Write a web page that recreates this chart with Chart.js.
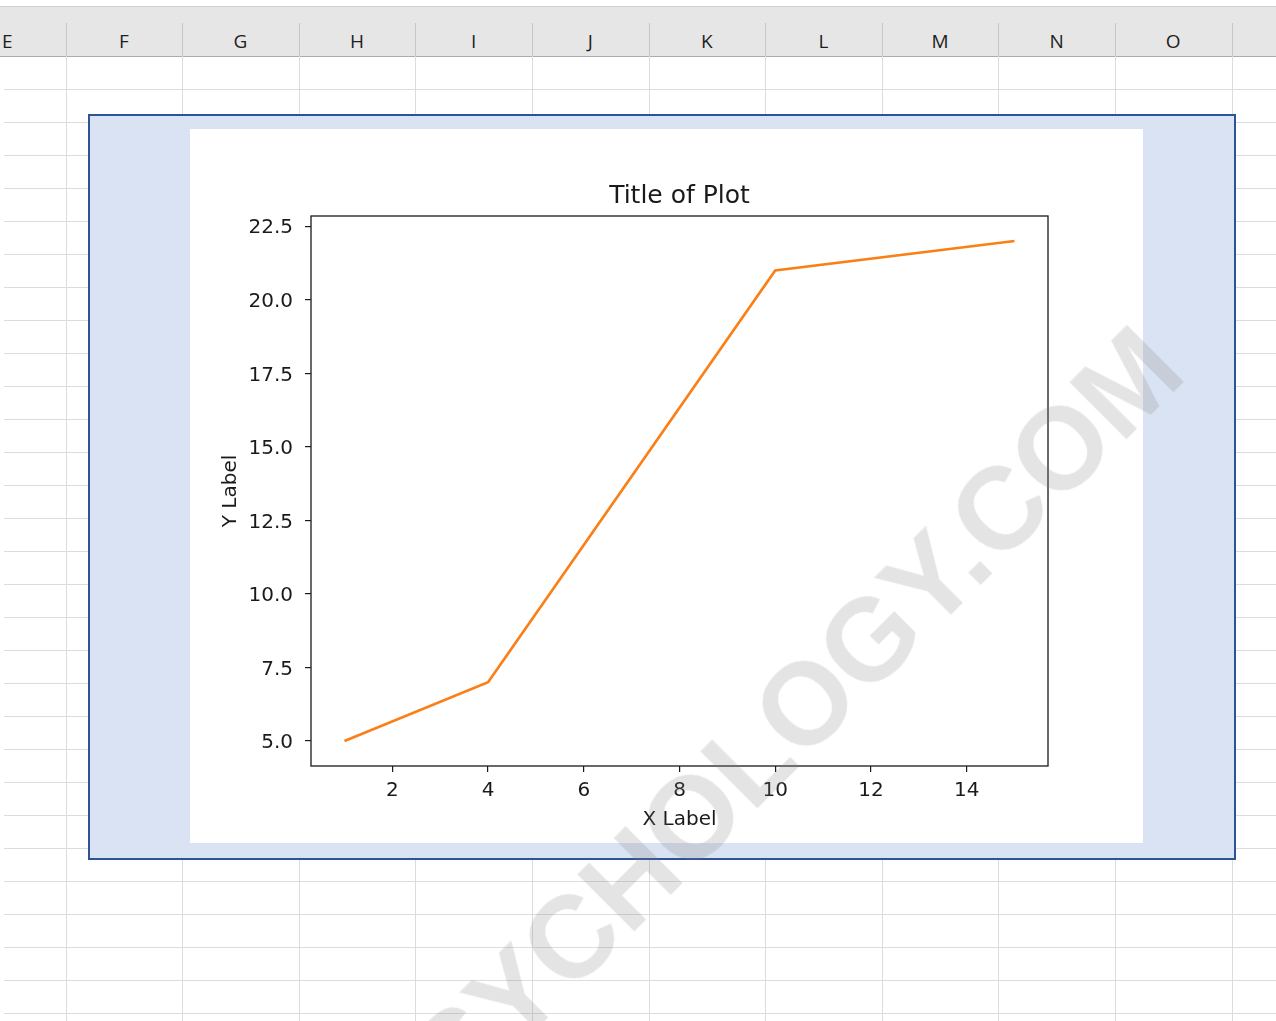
<!DOCTYPE html>
<html>
<head>
<meta charset="utf-8">
<title>Title of Plot</title>
<script src="https://cdn.jsdelivr.net/npm/chart.js@4.4.1/dist/chart.umd.min.js"></script>
<style>
  html, body { margin: 0; padding: 0; background: #fff; }
  body { width: 1276px; height: 1021px; position: relative; overflow: hidden; font-family: "Open Sans", "Noto Sans", sans-serif; }
  .vline { position: absolute; width: 1px; background: #dcdcdc; top: 56px; bottom: 0; }
  .hline { position: absolute; height: 1px; background: #dcdcdc; left: 4px; right: 0; }
  .hsep { position: absolute; width: 1px; background: #c6c6c6; top: 23px; height: 33px; }
  #colhead { position: absolute; left: 0; right: 0; top: 6px; height: 49px; background: #e6e6e6; border-top: 1px solid #d2d2d2; border-bottom: 1px solid #ababab; }
  .colname { position: absolute; top: 29px; width: 116px; margin-left: -58px; text-align: center; font-size: 19px; line-height: 24px; color: #1e1e1e; }
  #frame { position: absolute; left: 88px; top: 114px; width: 1144px; height: 742px; border: 2px solid #2f5496; background: #dae3f3; }
  #plotimg { position: absolute; left: 190px; top: 129px; width: 953px; height: 714px; background: #fff; }
  #watermark { position: absolute; left: 769px; top: 740px; transform: translate(-50%, -50%) rotate(-45deg);
    font-family: "Liberation Sans", Arial, sans-serif; font-weight: bold; font-size: 116px; line-height: 1;
    color: rgba(128, 128, 128, 0.21); white-space: nowrap; pointer-events: none; }
</style>
</head>
<body>
<div id="colhead"></div>
<div id="frame"></div>
<div id="plotimg"></div>
<canvas id="plot-chart" width="953" height="714" style="position:absolute;left:190px;top:130px;"></canvas>
<div id="watermark">PSYCHOLOGY.COM</div>

<script>
'use strict';

// *************** DATA
let xValues = [1, 4, 10, 15];
let yValues = [5, 7, 21, 22];
let xTicks = [2, 4, 6, 8, 10, 12, 14];
let yTicks = [5.0, 7.5, 10.0, 12.5, 15.0, 17.5, 20.0, 22.5];
let xRange = [0.3, 15.7];
let yRange = [4.15, 22.85];
let chartTitle = 'Title of Plot';
let xLabel = 'X Label';
let yLabel = 'Y Label';
let columnNames = ['E', 'F', 'G', 'H', 'I', 'J', 'K', 'L', 'M', 'N', 'O'];

// *************** SPREADSHEET BACKGROUND
let colWidth = 116.6;
let firstColLine = 65.5;
let frameDiv = document.getElementById('frame');

for (let y = 89; y < 1021; y += 33) {
  let line = document.createElement('div');
  line.className = 'hline';
  line.style.top = y + 'px';
  document.body.insertBefore(line, frameDiv);
}

for (let i = 0; i < 11; i++) {
  let x = Math.round(firstColLine + i * colWidth);
  let line = document.createElement('div');
  line.className = 'vline';
  line.style.left = x + 'px';
  document.body.insertBefore(line, frameDiv);

  let sep = document.createElement('div');
  sep.className = 'hsep';
  sep.style.left = x + 'px';
  document.body.insertBefore(sep, frameDiv);
}

for (let i = 0; i < columnNames.length; i++) {
  let label = document.createElement('div');
  label.className = 'colname';
  label.style.left = (firstColLine + (i - 0.5) * colWidth) + 'px';
  label.textContent = columnNames[i];
  document.body.insertBefore(label, frameDiv);
}

// *************** CHART
let ctx = document.getElementById('plot-chart');
let inkColor = '#1a1a1a';
let fontFamily = '"DejaVu Sans", Verdana, sans-serif';

// draws the full box round the plot area, like matplotlib spines
let framePlugin = {
  id: 'frame',
  afterDraw(chart) {
    let c = chart.ctx;
    let a = chart.chartArea;
    c.save();
    c.strokeStyle = inkColor;
    c.lineWidth = 1.3;
    c.strokeRect(a.left, a.top, a.right - a.left, a.bottom - a.top);
    c.restore();
  }
};

let points = [];
for (let i = 0; i < xValues.length; i++) {
  points.push({ x: xValues[i], y: yValues[i] });
}

let chartObj = {
  type: 'line',
  data: {
    datasets: [{
      data: points,
      borderColor: '#fa7f17',
      borderWidth: 2.7,
      pointRadius: 0,
      tension: 0,
      fill: false
    }]
  },
  options: {
    responsive: false,
    animation: false,
    layout: { padding: { left: 0, right: 95, top: 0, bottom: 0 } },
    plugins: {
      legend: { display: false },
      tooltip: { enabled: false },
      title: {
        display: true,
        text: chartTitle,
        fullSize: false,
        color: inkColor,
        font: { family: fontFamily, size: 25, weight: 'normal' },
        padding: { top: 51, bottom: 5 }
      }
    },
    scales: {
      x: {
        type: 'linear',
        min: xRange[0],
        max: xRange[1],
        afterBuildTicks: function (scale) {
          scale.ticks = xTicks.map(v => ({ value: v }));
        },
        afterFit: function (scale) {
          scale.height = 78;
        },
        border: { display: false },
        grid: { drawOnChartArea: false, drawTicks: true, tickLength: 6, color: inkColor, lineWidth: 1.2 },
        ticks: {
          padding: 7,
          color: inkColor,
          autoSkip: false,
          maxRotation: 0,
          font: { family: fontFamily, size: 20 },
          callback: v => String(v)
        },
        title: {
          display: true,
          text: xLabel,
          color: inkColor,
          font: { family: fontFamily, size: 20 },
          padding: { top: 0, bottom: 12 }
        }
      },
      y: {
        type: 'linear',
        min: yRange[0],
        max: yRange[1],
        afterBuildTicks: function (scale) {
          scale.ticks = yTicks.map(v => ({ value: v }));
        },
        afterFit: function (scale) {
          scale.width = 121;
        },
        border: { display: false },
        grid: { drawOnChartArea: false, drawTicks: true, tickLength: 6, color: inkColor, lineWidth: 1.2 },
        ticks: {
          padding: 12,
          labelOffset: 2,
          color: inkColor,
          autoSkip: false,
          font: { family: fontFamily, size: 20 },
          callback: v => Number(v).toFixed(1)
        },
        title: {
          display: true,
          text: yLabel,
          color: inkColor,
          font: { family: fontFamily, size: 20 },
          padding: { top: 29, bottom: 0 }
        }
      }
    }
  },
  plugins: [framePlugin]
};

new Chart(ctx, chartObj); // eslint-disable-line
</script>
</body>
</html>
